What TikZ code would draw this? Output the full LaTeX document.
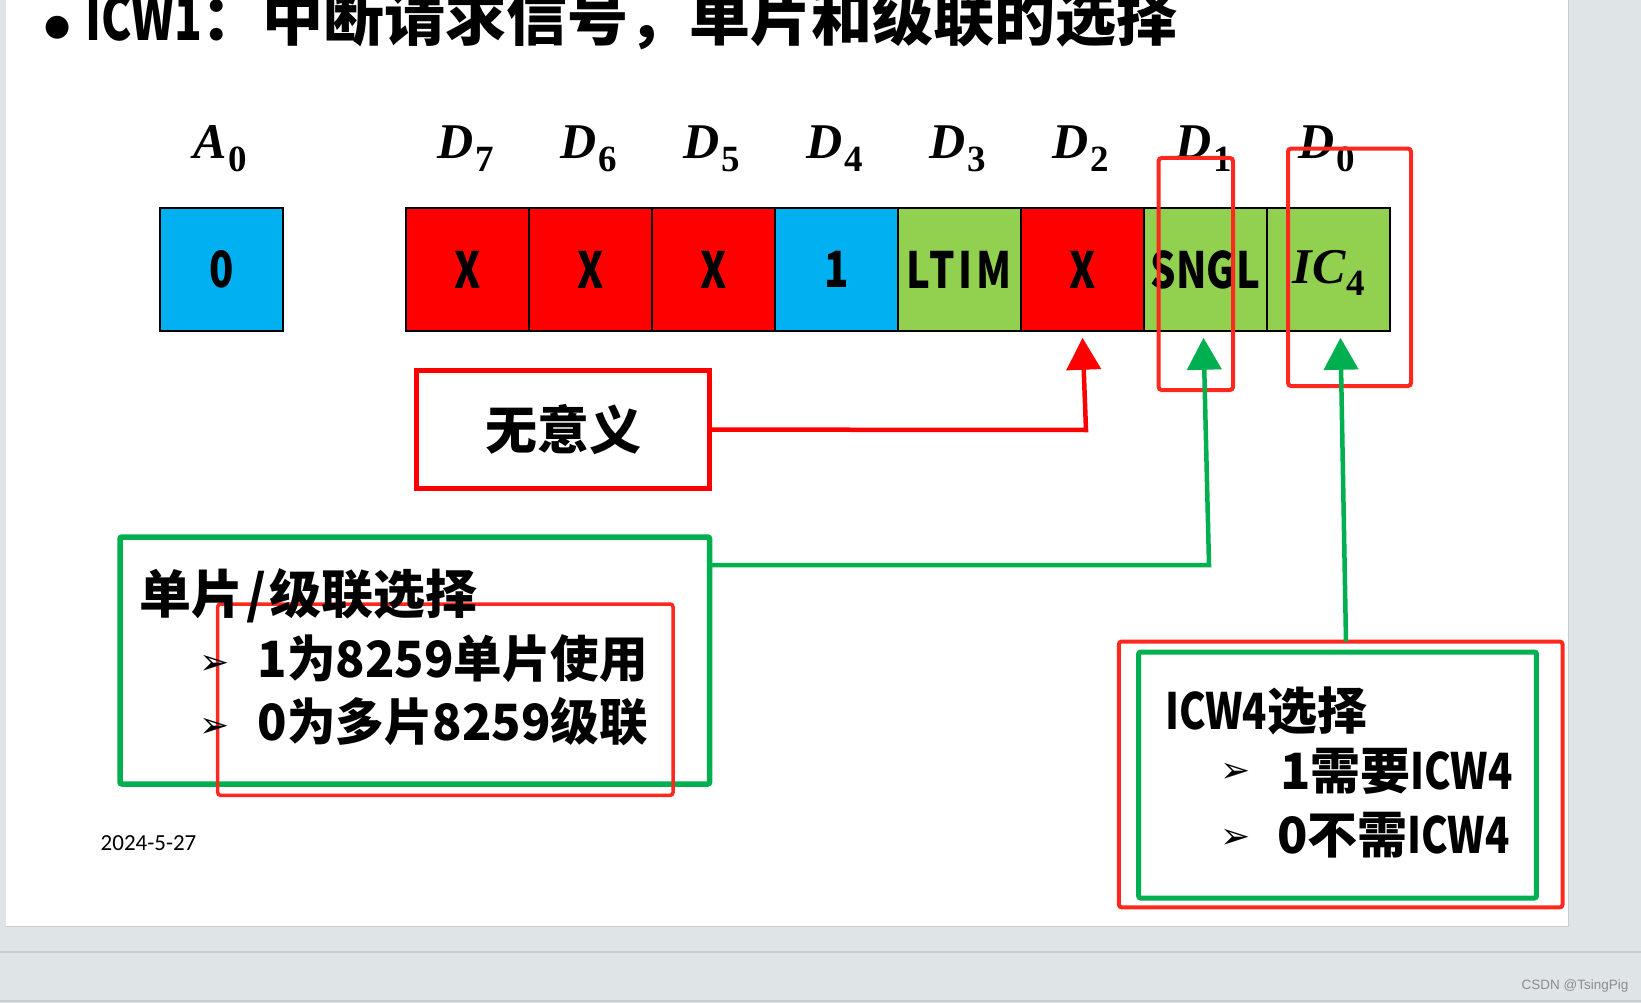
\documentclass[tikz,border=0pt]{standalone}
\usepackage{fontspec}
\usepackage{graphicx}
\usetikzlibrary{arrows.meta}
\newfontfamily\cjk{Noto Sans CJK SC}
\newfontfamily\cjkm{Noto Sans CJK SC}[FakeStretch=0.97]
\newfontfamily\cjkc{Noto Sans CJK SC}[FakeStretch=0.8]
\newfontfamily\djv{DejaVu Sans}
\newfontfamily\carl{Carlito}
\newfontfamily\libsans{Liberation Sans}
\newfontfamily\lser{Liberation Serif}
\newcommand{\bitlab}[2]{{\lser\bfseries\itshape #1}\kern1.5pt\raisebox{-13pt}{\lser\upshape\bfseries\fontsize{37}{40}\selectfont #2}}
\newcommand{\nar}[1]{\scalebox{0.8}[1]{#1}}
\definecolor{cred}{RGB}{255,0,0}
\definecolor{cblue}{RGB}{0,176,240}
\definecolor{cgreen}{RGB}{146,208,80}
\definecolor{lgreen}{RGB}{0,176,80}
\definecolor{lred}{RGB}{255,40,30}
\definecolor{bggray}{RGB}{223,228,231}
\definecolor{bgline}{RGB}{200,205,208}
\begin{document}
\begin{tikzpicture}[x=1pt,y=-1pt,
  cell/.style={draw=black,line width=1.5pt,minimum width=123pt,minimum height=123pt,inner sep=0pt,
    font=\cjkc\bfseries\fontsize{50}{60}\selectfont},
  lab/.style={inner sep=0pt,anchor=base,font=\fontsize{50}{56}\selectfont},
  rbox/.style={draw=lred,line width=4pt,rounded corners=3pt,inner sep=0pt},
  gbox/.style={draw=lgreen,line width=5.5pt,rounded corners=2pt,inner sep=0pt},
  txt/.style={inner sep=0pt,font=\cjk\bfseries\fontsize{50}{60}\selectfont},
  txtm/.style={inner sep=0pt,font=\cjkm\bfseries\fontsize{50}{60}\selectfont},
  bul/.style={inner sep=0pt,font=\djv\fontsize{36}{40}\selectfont},
  rarrow/.style={draw=cred,line width=4.5pt,-{Triangle[width=34pt,length=32pt]}},
  garrow/.style={draw=lgreen,line width=4.5pt,-{Triangle[width=34pt,length=32pt]}}
]
\useasboundingbox (0,0) rectangle (1641,1003);
% background
\fill[bggray] (0,0) rectangle (1641,1003);
\fill[white] (6,0) rectangle (1568,926);
\draw[bgline,line width=1pt] (1568,0) -- (1568,926) -- (6,926);
\draw[bgline,line width=1.5pt] (0,952) -- (1641,952);
\draw[bgline,line width=1.5pt] (0,1001) -- (1641,1001);

% title
\node[inner sep=0pt,font=\djv\fontsize{30}{36}\selectfont] (tb) at (58,28) {●};
\node[inner sep=0pt,anchor=base west,font=\cjk\bfseries\fontsize{61}{70}\selectfont] (title) at (85,41)
  {\scalebox{0.75}[1]{ICW1}：中断请求信号，单片和级联的选择};

% register cells
\node[cell,fill=cblue] (a0) at (221.5,269.5) {0};
\node[cell,fill=cred] (d7) at (467.5,269.5) {X};
\node[cell,fill=cred] (d6) at (590.5,269.5) {X};
\node[cell,fill=cred] (d5) at (713.5,269.5) {X};
\node[cell,fill=cblue] (d4) at (836.5,269.5) {1};
\node[cell,fill=cgreen] (d3) at (959.5,269.5) {\addfontfeature{LetterSpace=8}LTIM};
\node[cell,fill=cred] (d2) at (1082.5,269.5) {X};
\node[cell,fill=cgreen] (d1) at (1205.5,269.5) {SNGL};
\node[cell,fill=cgreen] (d0) at (1328.5,269.5) {};
\node[lab] (ic4) at (1329,283) {\bitlab{IC}{4}};

% bit labels
\node[lab] (la0) at (220,159) {\bitlab{A}{0}};
\node[lab] (l7) at (466,159) {\bitlab{D}{7}};
\node[lab] (l6) at (589,159) {\bitlab{D}{6}};
\node[lab] (l5) at (712,159) {\bitlab{D}{5}};
\node[lab] (l4) at (835,159) {\bitlab{D}{4}};
\node[lab] (l3) at (958,159) {\bitlab{D}{3}};
\node[lab] (l2) at (1081,159) {\bitlab{D}{2}};
\node[lab] (l1) at (1204,159) {\bitlab{D}{1}};
\node[lab] (l0) at (1327,159) {\bitlab{D}{0}};

% red highlight boxes on D1, D0
\node[rbox,minimum width=74.4pt,minimum height=232pt] (r1) at (1195.8,274) {};
\node[rbox,minimum width=123pt,minimum height=237.4pt] (r0) at (1349.5,267.3) {};

% meaningless box
\node[draw=cred,line width=5pt,minimum width=293pt,minimum height=118pt,inner sep=0pt,
  font=\cjk\bfseries\fontsize{52}{60}\selectfont] (wy) at (563,429.6) {无意义};

% single/cascade box
\node[gbox,minimum width=589.6pt,minimum height=247pt] (g1) at (414.8,660.5) {};
\node[rbox,line width=3.5pt,minimum width=455.3pt,minimum height=191.4pt] (r2) at (445.35,699.7) {};
\node[txt,anchor=west,font=\cjk\bfseries\fontsize{52}{60}\selectfont] (t1) at (139,596) {单片\kern3pt/\kern3pt级联选择};
\node[bul,anchor=west] (b1) at (199,665) {➢};
\node[bul,anchor=west] (b2) at (199,728) {➢};
\node[txtm,anchor=west] (t2) at (257.5,659) {1为8259单片使用};
\node[txtm,anchor=west] (t3) at (257.5,722) {0为多片8259级联};

% ICW4 box
\node[rbox,minimum width=443.8pt,minimum height=265.9pt] (r4) at (1340.7,774.45) {};
\node[gbox,line width=5pt,minimum width=397.7pt,minimum height=246pt] (g4) at (1337.55,775) {};
\node[txt,anchor=west] (t4) at (1165,711) {\nar{ICW4}选择};
\node[bul,anchor=west] (b3) at (1220,773) {➢};
\node[bul,anchor=west] (b4) at (1220,839) {➢};
\node[txt,anchor=west] (t5) at (1280,771) {1需要\nar{ICW4}};
\node[txt,anchor=west] (t6) at (1277,835) {0不需\nar{ICW4}};

% connectors
\coordinate (wyc) at (1086,430);
\draw[rarrow] (wy.east) -- (wyc) -- ([yshift=-6pt]d2.south);
\coordinate (g1o) at (709.6,565);
\coordinate (g1c) at (1209,565);
\draw[garrow] (g1o) -- (g1c) -- ([xshift=-2pt,yshift=-6pt]d1.south);
\coordinate (r4o) at (1346,641.5);
\draw[garrow] (r4o) -- ([xshift=12pt,yshift=-6pt]d0.south);

% date and watermark
\node[inner sep=0pt,anchor=west,font=\carl\fontsize{23}{26}\selectfont] (date) at (100.5,843.5) {2024-5-27};
\node[inner sep=0pt,font=\libsans\fontsize{13.5}{16}\selectfont,text=black!45] (wm) at (1575,986) {CSDN @TsingPig};
\end{tikzpicture}
\end{document}
